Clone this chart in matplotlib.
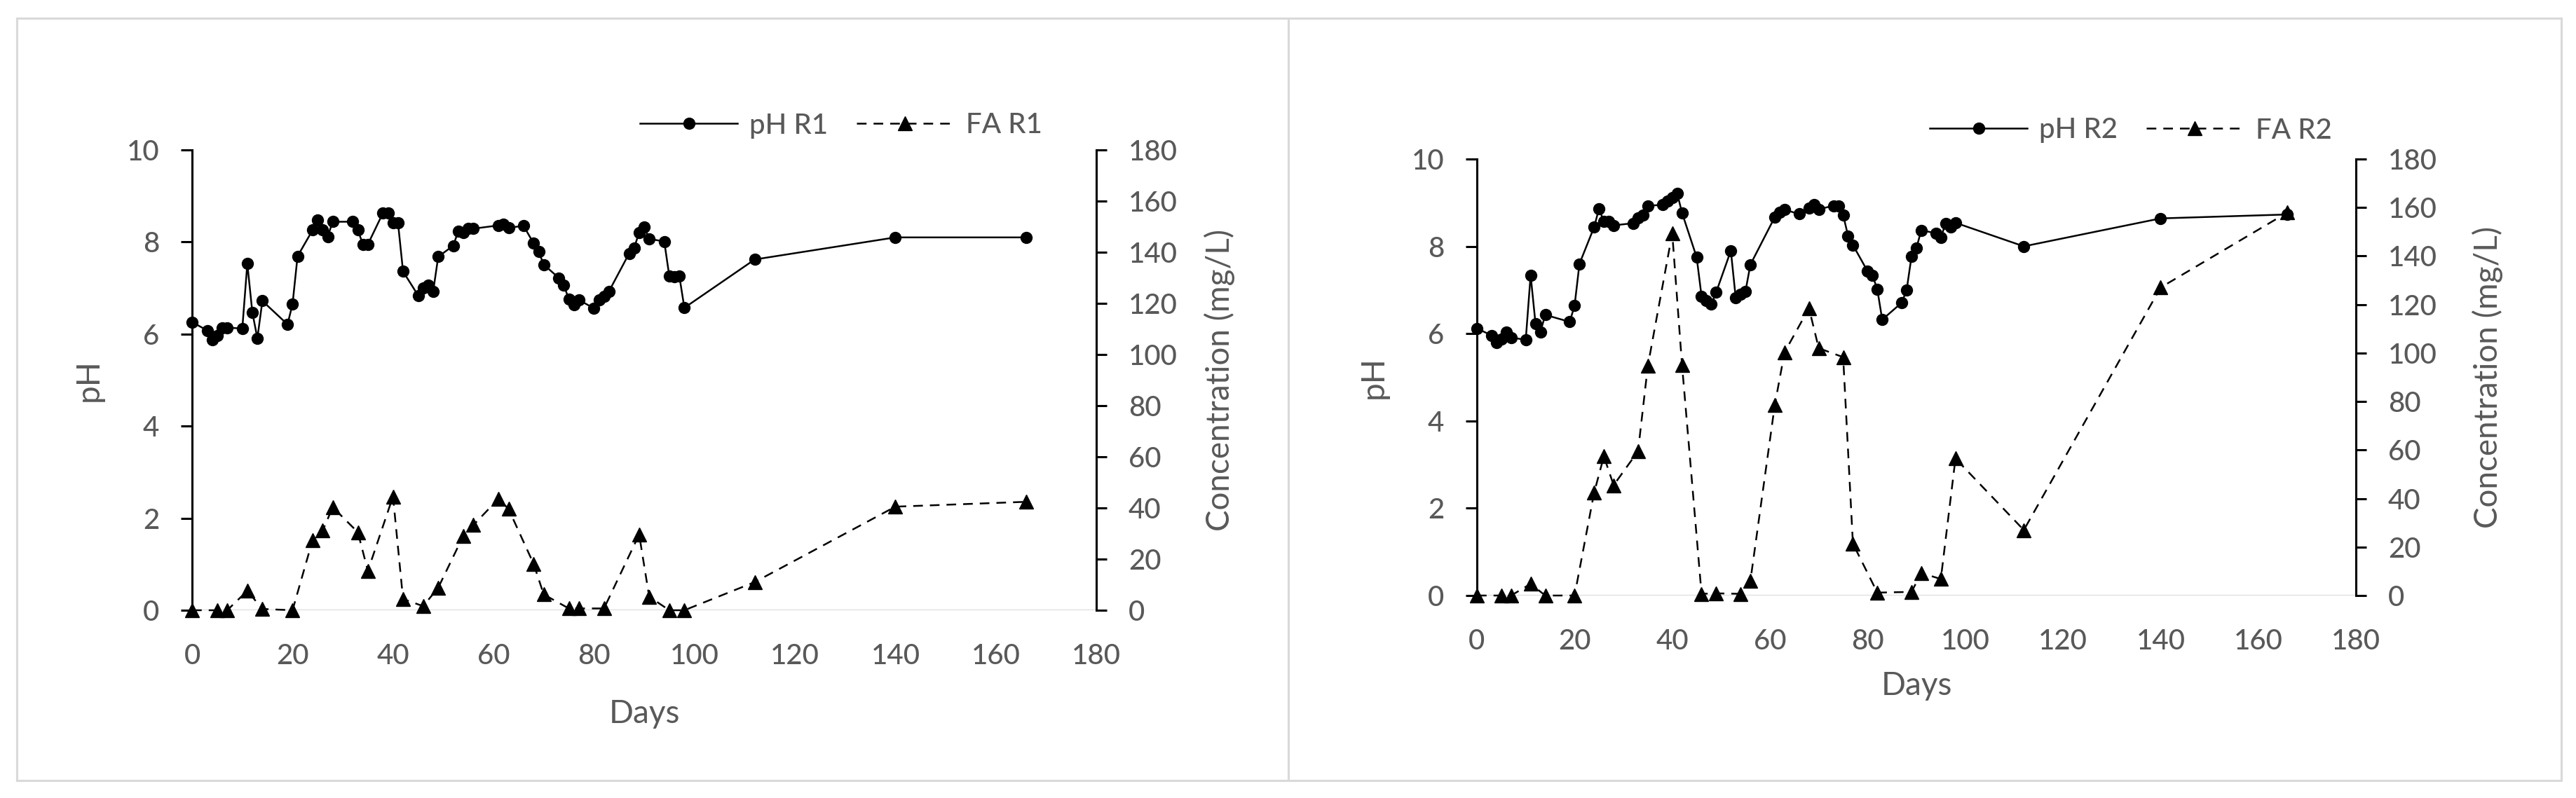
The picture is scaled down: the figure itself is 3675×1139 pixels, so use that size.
import matplotlib
matplotlib.use("Agg")
import matplotlib.pyplot as plt
from matplotlib.patches import Rectangle

plt.rcParams['font.family'] = ['Lato', 'DejaVu Sans']
plt.rcParams['font.weight'] = 'medium'

# sampling days (pH and FA are measured on different days)
days_ph = [0, 3, 4, 5, 6, 7, 10, 11, 12, 13, 14, 19, 20, 21, 24, 25, 26, 27, 28,
           32, 33, 34, 35, 38, 39, 40, 41, 42, 45, 46, 47, 48, 49, 52, 53, 54, 55, 56,
           61, 62, 63, 66, 68, 69, 70, 73, 74, 75, 76, 77, 80, 81, 82, 83,
           87, 88, 89, 90, 91, 94, 95, 96, 97, 98, 112, 140, 166]
days_fa = [0, 5, 7, 11, 14, 20, 24, 26, 28, 33, 35, 40, 42, 46, 49, 54, 56,
           61, 63, 68, 70, 75, 77, 82, 89, 91, 95, 98, 112, 140, 166]

ph_r1 = [6.26, 6.08, 5.88, 5.97, 6.14, 6.14, 6.12, 7.53, 6.47, 5.91, 6.72,
         6.21, 6.65, 7.69, 8.26, 8.48, 8.27, 8.12, 8.44, 8.44, 8.26, 7.95, 7.95,
         8.63, 8.63, 8.41, 8.41, 7.36, 6.84, 7.00, 7.07, 6.93, 7.68,
         7.92, 8.24, 8.21, 8.29, 8.29, 8.36, 8.39, 8.31, 8.35, 7.97, 7.79, 7.51,
         7.22, 7.06, 6.76, 6.64, 6.74, 6.56, 6.74, 6.82, 6.93,
         7.75, 7.87, 8.21, 8.32, 8.07, 8.01, 7.26, 7.24, 7.26, 6.57, 7.62, 8.10, 8.10]
fa_r1 = [0, 0, 0, 7.6, 0.5, 0, 27.5, 31.1, 40.3, 30.5, 15.4, 44.5, 4.4, 1.6, 8.8,
         29.1, 33.3, 43.6, 39.6, 18.1, 6.2, 0.7, 0.7, 0.7, 29.6, 5.3, 0, 0, 11, 40.5, 42.4]

ph_r2 = [6.12, 5.96, 5.80, 5.88, 6.04, 5.91, 5.86, 7.34, 6.23, 6.04, 6.43,
         6.27, 6.64, 7.60, 8.44, 8.86, 8.57, 8.57, 8.48, 8.53, 8.65, 8.72, 8.93,
         8.95, 9.04, 9.12, 9.22, 8.77, 7.75, 6.86, 6.76, 6.67, 6.95,
         7.90, 6.82, 6.90, 6.97, 7.58, 8.67, 8.78, 8.84, 8.74, 8.88, 8.96, 8.85,
         8.93, 8.93, 8.72, 8.24, 8.03, 7.43, 7.34, 7.01, 6.32,
         6.71, 7.00, 7.77, 7.96, 8.37, 8.30, 8.20, 8.53, 8.44, 8.54, 8.00, 8.64, 8.73]
fa_r2 = [0, 0, 0, 4.8, 0, 0, 42.4, 57.4, 45.5, 59.5, 94.7, 149.4, 95.2, 0.7, 0.9,
         0.7, 6.0, 78.6, 100.3, 118.5, 102, 98.3, 21.4, 1.2, 1.5, 9.3, 6.8, 56.5,
         27, 127, 158]

x_ticks = list(range(0, 181, 20))
ph_ticks = list(range(0, 11, 2))
conc_ticks = list(range(0, 181, 20))

W, H = 3675, 1139
GREY_TXT = '#595959'
fig = plt.figure(figsize=(W / 100, H / 100), dpi=100)


def px_rect(x0, y0, x1, y1):
    # pixel box (top-left origin) -> figure fraction [l, b, w, h]
    return [x0 / W, 1 - y1 / H, (x1 - x0) / W, (y1 - y0) / H]


# panel frames
for x0, x1 in [(24, 1838), (1838, 3654)]:
    l, b, w, h = px_rect(x0, 26, x1, 1114)
    fig.patches.append(Rectangle((l, b), w, h, transform=fig.transFigure,
                                 fill=False, edgecolor='#d9d9d9', lw=2.2))


def draw_panel(box, ph, fa, tag, ph_lab_x, conc_lab_x, days_lab_y, leg_xy):
    ax = fig.add_axes(px_rect(*box))
    ax2 = ax.twinx()

    ax.axhline(0, color='#d9d9d9', lw=2.2, zorder=0)
    l1, = ax.plot(days_ph, ph, color='black', lw=1.8, marker='o', ms=11.5,
                  clip_on=False, label='pH ' + tag)
    l2, = ax2.plot(days_fa, fa, color='black', lw=1.8, ls=(0, (5.5, 4)),
                   marker='^', ms=14, clip_on=False, label='FA ' + tag)

    ax.set_xlim(0, 180)
    ax.set_ylim(0, 10)
    ax2.set_ylim(0, 180)
    ax.set_xticks(x_ticks)
    ax.set_yticks(ph_ticks)
    ax2.set_yticks(conc_ticks)

    for s in ['top', 'right', 'bottom']:
        ax.spines[s].set_visible(False)
    for s in ['top', 'left', 'bottom']:
        ax2.spines[s].set_visible(False)
    ax.spines['left'].set_linewidth(2.2)
    ax2.spines['right'].set_linewidth(2.2)

    ax.tick_params(axis='x', length=0, pad=34, labelsize=29, labelcolor=GREY_TXT)
    ax.tick_params(axis='y', direction='out', length=11.5, width=2.2, pad=22,
                   labelsize=29, labelcolor=GREY_TXT)
    ax2.tick_params(axis='y', direction='out', length=11, width=2.2, pad=22,
                    labelsize=29, labelcolor=GREY_TXT)

    ax.set_xlabel('Days', fontsize=33, color=GREY_TXT)
    ax.set_ylabel('pH', fontsize=33, color=GREY_TXT)
    ax2.set_ylabel('Concentration (mg/L)', fontsize=33, color=GREY_TXT)
    ax.xaxis.set_label_coords(0.5, days_lab_y)
    ax.yaxis.set_label_coords(ph_lab_x, 0.5)
    ax2.yaxis.set_label_coords(conc_lab_x, 0.5)

    fig.legend([l1, l2], [l1.get_label(), l2.get_label()], loc='center left',
               bbox_to_anchor=(leg_xy[0] / W, 1 - leg_xy[1] / H), ncol=2,
               frameon=False, fontsize=29, labelcolor=GREY_TXT,
               handlelength=3.46, handletextpad=0.42, columnspacing=1.0,
               borderpad=0, borderaxespad=0)


draw_panel((274, 214, 1564, 871), ph_r1, fa_r1, 'R1',
           -0.098, 1.119, -0.193, (913, 179))
draw_panel((2107, 227, 3361, 850), ph_r2, fa_r2, 'R2',
           -0.101, 1.132, -0.173, (2753, 186))

fig.savefig('out.png', dpi=100)
